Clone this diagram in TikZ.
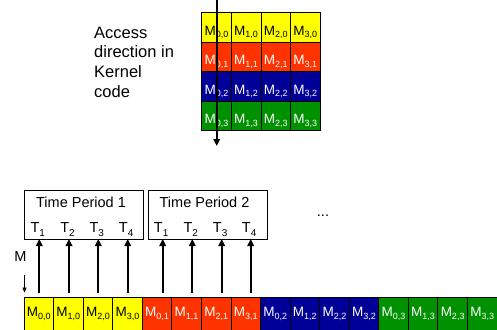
\documentclass[tikz,border=0pt]{standalone}
\usepackage{fontspec}
\setmainfont{Liberation Sans}
\usetikzlibrary{arrows.meta}
\definecolor{cy}{RGB}{255,255,0}
\definecolor{cr}{RGB}{255,51,0}
\definecolor{cb}{RGB}{0,0,153}
\definecolor{cg}{RGB}{0,145,0}
\newcommand{\msub}[1]{M\raisebox{-2.5pt}{\fontsize{9}{9}\selectfont #1}}
\newcommand{\tsub}[1]{T\raisebox{-4pt}{\fontsize{10}{10}\selectfont #1}}
\tikzset{
  mcell/.style={draw=black, line width=0.8pt, minimum width=29.6pt, minimum height=29.5pt,
    inner sep=0pt, font=\fontsize{13.5}{16}\selectfont, text height=16pt, text depth=0pt},
  bcell/.style={draw=black, line width=0.8pt, minimum width=29.56pt, minimum height=33pt,
    inner sep=0pt, font=\fontsize{13.5}{16}\selectfont, text height=6.5pt, text depth=0pt},
  tpbox/.style={draw=black, line width=0.8pt, minimum width=119pt, minimum height=49pt, inner sep=0pt},
  lbl/.style={font=\fontsize{14.5}{20}\selectfont, inner sep=0pt},
  acclbl/.style={font=\fontsize{16.5}{19.6}\selectfont, inner sep=0pt},
  tlab/.style={font=\fontsize{14.5}{16}\selectfont, inner sep=0pt, anchor=base},
  arr/.style={line width=2pt, -{Triangle[width=6.5pt,length=7pt]}},
  smallarr/.style={line width=0.7pt, -{Triangle[width=4pt,length=5pt]}}
}
\begin{document}
\begin{tikzpicture}[x=1pt,y=-1pt]
\useasboundingbox (0,0) rectangle (497,329);
% top matrix
\foreach \j/\col/\tc in {0/cy/black,1/cr/white,2/cb/white,3/cg/white}{
  \foreach \i in {0,...,3}{
    \node[mcell, fill=\col, text=\tc] (m\i\j) at ({201.7+29.6*\i+14.8},{12.7+29.5*\j+14.75}) {\msub{\i,\j}};
  }
}
\coordinate (atop) at (216.7,0);
\coordinate (abot) at (216.7,146);
\draw[arr] (atop) -- (abot);
% access text
\node[acclbl, anchor=base west, align=left] (acc) at (94,97) {Access\\direction in\\Kernel\\code};
% bottom strip
\foreach \j/\col/\tc in {0/cy/black,1/cr/white,2/cb/white,3/cg/white}{
  \foreach \i in {0,...,3}{
    \node[bcell, fill=\col, text=\tc] (b\i\j) at ({24+29.56*(4*\j+\i)+14.78},313.5) {\msub{\i,\j}};
  }
}
% time period boxes
\node[tpbox] (tp1) at (83.5,214.5) {};
\node[tpbox] (tp2) at (207.4,214.5) {};
\node[lbl, anchor=base] (tt1) at (81,207) {Time Period 1};
\node[lbl, anchor=base] (tt2) at (204.5,207) {Time Period 2};
\node[lbl, anchor=base] (dots) at (323,216) {...};
% T labels and arrows
\foreach \n/\x/\s in {1/39.3/1,2/69/2,3/98.3/3,4/127.7/4,5/162.7/1,6/192.3/2,7/221.7/3,8/250.7/4}{
  \coordinate (p\n) at (\x,239);
  \node[tlab] (t\n) at ([xshift=-1.5pt,yshift=7pt]p\n) {\tsub{\s}};
  \draw[arr, shorten <=4pt] (p\n |- b00.north) -- (p\n);
}
% M label
\node[lbl, anchor=base] (mlab) at (20.5,261) {M};
\coordinate (ms) at (24.5,275);
\draw[smallarr, shorten >=4pt] (ms) -- (ms |- b00.north);
\end{tikzpicture}
\end{document}
